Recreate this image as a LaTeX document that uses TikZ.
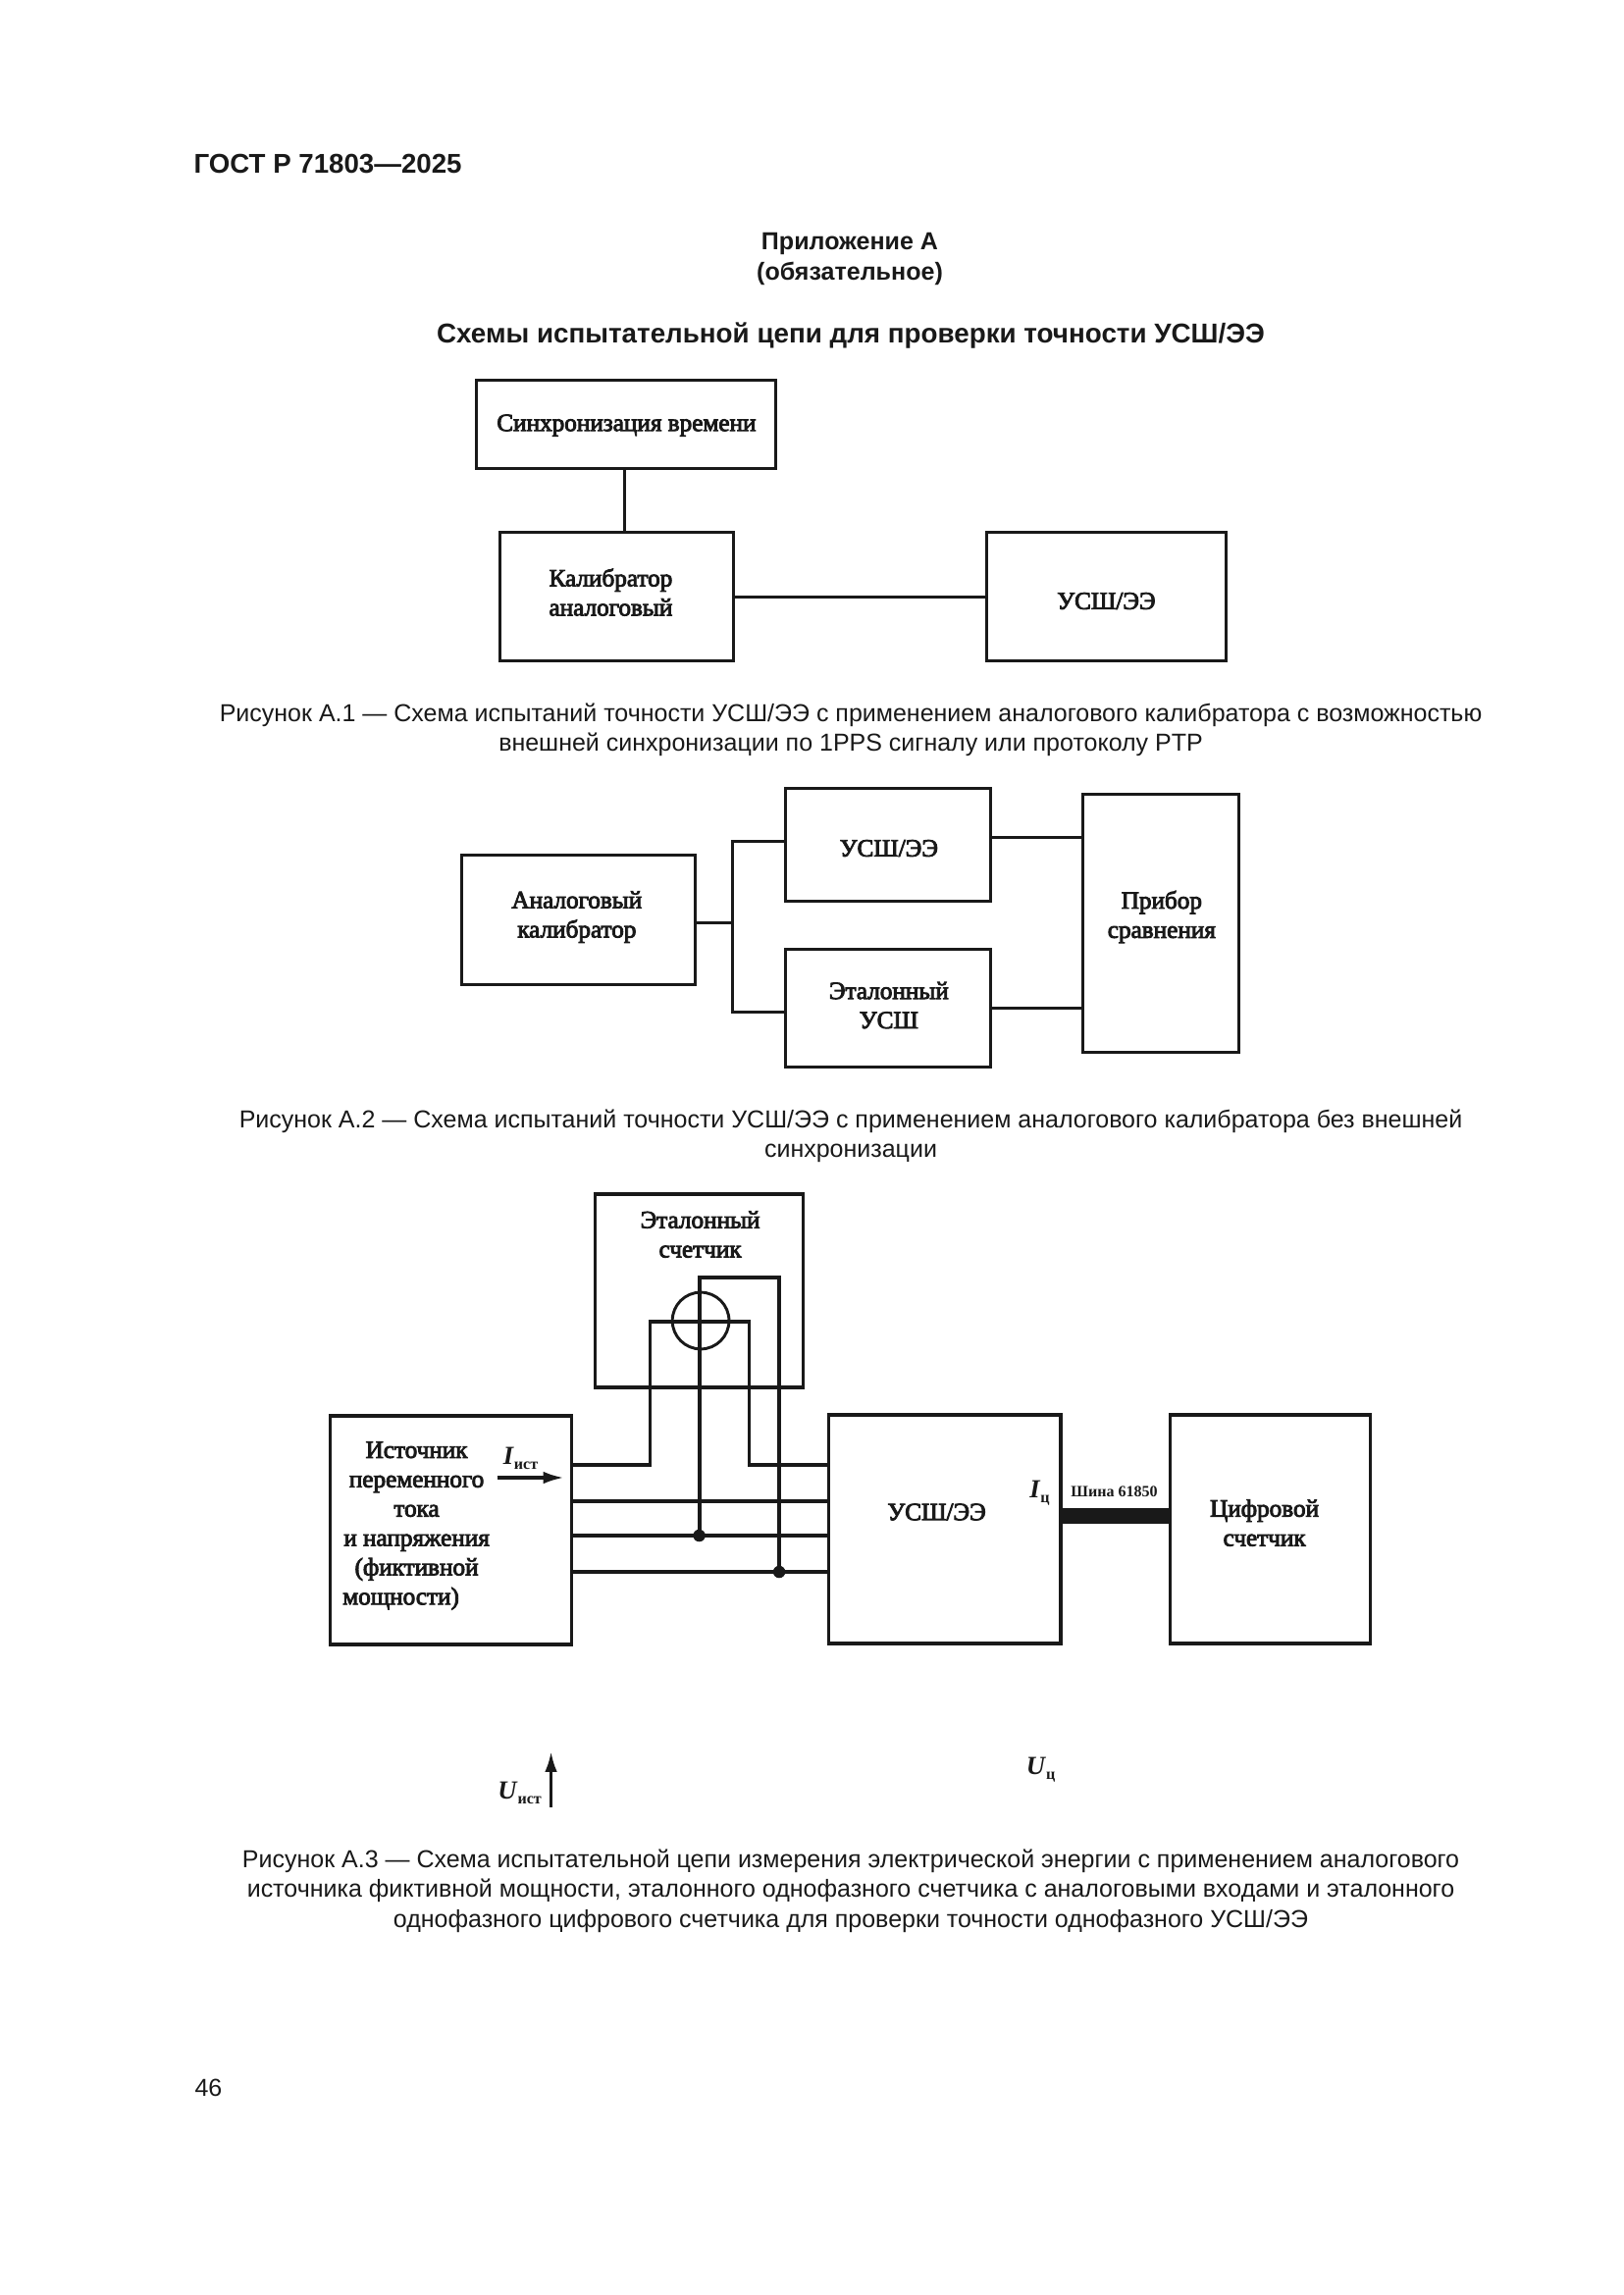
\documentclass[tikz,border=0pt]{standalone}
\usepackage{fontspec}
\setmainfont{Liberation Sans}
\newfontfamily\serifcyr{Liberation Serif}
\newfontfamily\serifsmear[FakeBold=3.5]{Liberation Serif}
\usetikzlibrary{arrows.meta}
\definecolor{ink}{gray}{0.1}
\tikzset{
  blockbox/.style={draw=ink,line width=1.15bp,inner sep=0pt,outer sep=0pt,fill=none},
  wire/.style={draw=ink,line width=1.12bp},
  heavywire/.style={draw=ink,line width=1.4bp},
  bus/.style={draw=ink,line width=5.8bp},
  dot/.style={circle,fill=ink,inner sep=0pt,minimum size=4.5bp},
  meter/.style={circle,draw=ink,line width=1.05bp,inner sep=0pt,minimum size=20.8bp},
  dtext/.style={font=\serifsmear\fontsize{9.1}{10.8}\selectfont,align=center,inner sep=0pt,text=ink},
  symb/.style={font=\serifcyr\bfseries\fontsize{9.6}{11}\selectfont,inner sep=0pt,text=ink},
  caption/.style={font=\fontsize{9.03}{11}\selectfont,inner sep=0pt,text=ink,text height=6.8bp,text depth=1.9bp},
  head/.style={font=\bfseries\fontsize{9.05}{11}\selectfont,inner sep=0pt,text=ink,text height=6.8bp,text depth=1.9bp},
  pointer/.style={draw=ink,line width=1.15bp,-{Latex[length=7.5bp,width=4.5bp]}},
}
\newcommand{\blocknode}[5]{%
  \pgfmathsetmacro{\cxx}{(#2+#4)/2}\pgfmathsetmacro{\cyy}{(#3+#5)/2}%
  \pgfmathsetmacro{\wwd}{(#4-#2)*0.36}\pgfmathsetmacro{\hht}{(#5-#3)*0.36}%
  \node[blockbox,minimum width=\wwd bp,minimum height=\hht bp] (#1) at (\cxx,\cyy) {};}
\newcommand{\subs}[2]{\textit{#1}\raisebox{-1.8bp}{\fontsize{5.8}{7}\selectfont #2}}
\begin{document}
\begin{tikzpicture}[x=0.36bp,y=-0.36bp]
\useasboundingbox (0,0) rectangle (1654,2339);
% page texts
\node[head,anchor=west,font=\bfseries\fontsize{10}{11}\selectfont] (gost) at (197,170) {ГОСТ Р 71803—2025};
\node[head] (app) at (866,248) {Приложение А};
\node[head] (oblig) at (866,279) {(обязательное)};
\node[head,font=\bfseries\fontsize{10.04}{11}\selectfont] (title) at (867,343) {Схемы испытательной цепи для проверки точности УСШ/ЭЭ};
% Figure A.1
\begin{scope}[xshift=0.15bp,yshift=-0.2bp]
\blocknode{sync}{485}{387}{790}{477}
\blocknode{kal}{509}{542}{747}{673}
\blocknode{ussa}{1005}{542}{1249}{673}
\node[dtext] (synct) at (638,433) {Синхронизация времени};
\node[dtext] (kalt) at (622,603) {Калибратор\\аналоговый};
\node[dtext] (ussat) at (1127,612) {УСШ/ЭЭ};
\draw[wire] (sync.south -| 636,0) -- (kal.north -| 636,0);
\draw[wire] (kal.east |- 0,608) -- (ussa.west |- 0,608);
\end{scope}
\node[caption] (capa) at (867,729) {Рисунок А.1 — Схема испытаний точности УСШ/ЭЭ с применением аналогового калибратора с возможностью};
\node[caption] (capb) at (867,759) {внешней синхронизации по 1PPS сигналу или протоколу PTP};
% Figure A.2
\begin{scope}[xshift=0.3bp,yshift=-0.2bp]
\blocknode{anal}{470}{871}{708}{1003}
\blocknode{ussb}{800}{803}{1009}{918}
\blocknode{etal}{800}{967}{1009}{1087}
\blocknode{prib}{1103}{809}{1262}{1072}
\node[dtext] (analt) at (587,934) {Аналоговый\\калибратор};
\node[dtext] (ussbt) at (905,864) {УСШ/ЭЭ};
\node[dtext] (etalt) at (905,1024) {Эталонный\\УСШ};
\node[dtext] (pribt) at (1183,934) {Прибор\\сравнения};
\coordinate (split) at (745.5,940);
\draw[wire] (anal.east |- split) -- (split);
\draw[wire] (ussb.west |- 0,857) -- (745.5,857) -- (745.5,1031) -- (etal.west |- 0,1031);
\draw[wire] (ussb.east |- 0,853) -- (prib.west |- 0,853);
\draw[wire] (etal.east |- 0,1027) -- (prib.west |- 0,1027);
\end{scope}
\node[caption] (capc) at (867,1143) {Рисунок А.2 — Схема испытаний точности УСШ/ЭЭ с применением аналогового калибратора без внешней};
\node[caption] (capd) at (867,1173) {синхронизации};
% Figure A.3
\begin{scope}[xshift=0.2bp]
\blocknode{mbox}{606}{1217}{818}{1414}
\blocknode{src}{336}{1443}{582}{1676}
\blocknode{ussc}{844}{1442}{1080.5}{1675}
\blocknode{digi}{1192}{1442}{1396}{1675}
\node[dtext] (mboxt) at (713,1258) {Эталонный\\счетчик};
\node[dtext] (srct) at (424,1555) {Источник\\переменного\\тока\\и напряжения\\(фиктивной\\мощности)\hspace*{11.5bp}};
\node[dtext] (ussct) at (954,1541) {УСШ/ЭЭ};
\node[dtext] (digit) at (1288,1552) {Цифровой\\счетчик};
\node[meter] (mcirc) at (713.5,1346) {};
% wires
\draw[wire] (src.east |- 0,1493) -- (662,1493) -- (662,1347) -- (763,1347) -- (763,1493) -- (ussc.west |- 0,1493);
\draw[heavywire] (src.east |- 0,1530) -- (ussc.west |- 0,1530);
\coordinate (j1) at (712,1565);
\coordinate (j2) at (793.5,1602);
\draw[wire] (src.east |- j1) -- (ussc.west |- j1);
\draw[wire] (src.east |- j2) -- (ussc.west |- j2);
\draw[heavywire] (j1) -- (712,1302) -- (793.5,1302) -- (j2);
\node[dot] (d1) at (j1) {};
\node[dot] (d2) at (j2) {};
\draw[bus] (ussc.east |- 0,1545) -- (digi.west |- 0,1545);
\node[dtext,font=\serifcyr\bfseries\fontsize{5.8}{7}\selectfont] (bust) at (1135,1520) {Шина 61850};
\node[symb] (ic) at (1059,1522) {\subs{I}{ц}};
\node[symb] (iist) at (530,1486) {\subs{I}{ист}};
\coordinate (ia) at (506,1506);
\coordinate (ib) at (574,1506);
\draw[pointer] (ia) -- (ib);
\coordinate (ua) at (561,1842);
\coordinate (ub) at (561,1785);
\draw[pointer] (ua) -- (ub);
\node[symb] (uist) at (529,1827) {\subs{U}{ист}};
\node[symb] (uc) at (1060,1804) {\subs{U}{ц}};
\end{scope}
\node[caption] (cape) at (867,1897) {Рисунок А.3 — Схема испытательной цепи измерения электрической энергии с применением аналогового};
\node[caption] (capf) at (867,1927) {источника фиктивной мощности, эталонного однофазного счетчика с аналоговыми входами и эталонного};
\node[caption] (capg) at (867,1958) {однофазного цифрового счетчика для проверки точности однофазного УСШ/ЭЭ};
\node[caption,anchor=west] (page) at (198,2130) {46};
\end{tikzpicture}
\end{document}
